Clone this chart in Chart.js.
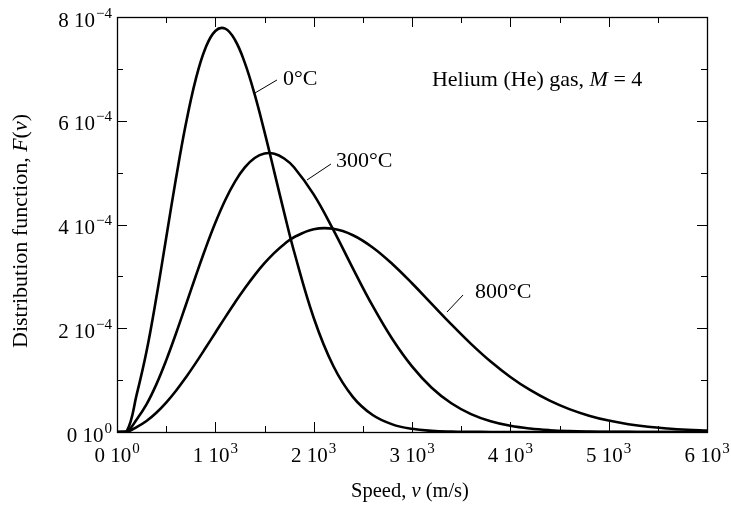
<!DOCTYPE html>
<html>
<head>
<meta charset="utf-8">
<script src="https://cdn.jsdelivr.net/npm/chart.js@4.4.1/dist/chart.umd.min.js"></script>
<style>
  html, body { margin: 0; padding: 0; background: #fff; }
  #wrap { width: 731px; height: 508px; }
</style>
</head>
<body>
<div id="wrap"><canvas id="c" width="731" height="508"></canvas></div>
<script>
// Speed samples (m/s)
const speeds = [0, 100, 200, 300, 400, 500, 600, 700, 800, 900, 1000, 1100, 1200, 1300, 1400, 1500, 1600, 1700, 1800,
  2000, 2200, 2400, 2600, 2800, 3000, 3200, 3400, 3600, 3800, 4000, 4200, 4400, 4600, 4800, 5000,
  5200, 5400, 5600, 5800, 6000];

// Distribution function F(v)
const f0C = [0, 0.019e-4, 0.720e-4, 1.551e-4, 2.592e-4, 3.741e-4, 4.890e-4, 5.936e-4, 6.794e-4, 7.403e-4,
  7.731e-4, 7.775e-4, 7.557e-4, 7.116e-4, 6.507e-4, 5.785e-4, 5.010e-4, 4.229e-4, 3.484e-4,
  2.203e-4, 1.272e-4, 0.673e-4, 0.327e-4, 0.147e-4, 0.061e-4, 0.023e-4, 0.008e-4, 0.003e-4, 0.001e-4,
  0, 0, 0, 0, 0, 0, 0, 0, 0, 0, 0];
const f300C = [0, 0.006e-4, 0.241e-4, 0.532e-4, 0.918e-4, 1.381e-4, 1.899e-4, 2.448e-4, 3.002e-4, 3.538e-4,
  4.033e-4, 4.468e-4, 4.828e-4, 5.102e-4, 5.283e-4, 5.370e-4, 5.365e-4, 5.272e-4, 5.104e-4,
  4.580e-4, 3.896e-4, 3.150e-4, 2.430e-4, 1.792e-4, 1.264e-4, 0.854e-4, 0.554e-4, 0.345e-4, 0.207e-4,
  0.119e-4, 0.066e-4, 0.035e-4, 0.018e-4, 0.009e-4, 0.004e-4, 0.002e-4, 0.001e-4, 0, 0, 0];
const f800C = [0, 0.002e-4, 0.095e-4, 0.211e-4, 0.370e-4, 0.566e-4, 0.795e-4, 1.052e-4, 1.328e-4, 1.618e-4,
  1.914e-4, 2.210e-4, 2.497e-4, 2.771e-4, 3.025e-4, 3.254e-4, 3.454e-4, 3.621e-4, 3.754e-4,
  3.908e-4, 3.917e-4, 3.793e-4, 3.558e-4, 3.239e-4, 2.867e-4, 2.470e-4, 2.075e-4, 1.699e-4, 1.358e-4,
  1.061e-4, 0.810e-4, 0.604e-4, 0.441e-4, 0.315e-4, 0.220e-4, 0.151e-4, 0.101e-4, 0.067e-4, 0.043e-4,
  0.027e-4];

const seriesNames = ['0°C', '300°C', '800°C'];

// Tick values and labels
const xTickValues = [0, 1000, 2000, 3000, 4000, 5000, 6000];
const xMinorTicks = [500, 1500, 2500, 3500, 4500, 5500];
const xTickMantissa = ['0', '1', '2', '3', '4', '5', '6'];
const xTickExponent = ['0', '3', '3', '3', '3', '3', '3'];
const yTickValues = [0, 2e-4, 4e-4, 6e-4, 8e-4];
const yMinorTicks = [1e-4, 3e-4, 5e-4, 7e-4];
const yTickMantissa = ['0', '2', '4', '6', '8'];
const yTickExponent = ['0', '\u22124', '\u22124', '\u22124', '\u22124'];

// Curve labels: [leader start speed, F], [leader end speed, F], [text speed, F baseline]
const curveLabelAnchors = [
  [[1403, 6.535e-4], [1627, 6.786e-4], [1688, 6.69e-4]],
  [[1932, 4.858e-4], [2176, 5.166e-4], [2227, 5.108e-4]],
  [[3356, 2.313e-4], [3519, 2.641e-4], [3641, 2.583e-4]]
];
const gasLabelAnchor = [3203, 6.67e-4];

const FONT = '"Liberation Serif", "Times New Roman", serif';

function toPoints(arr) { return speeds.map((s, i) => ({ x: s, y: arr[i] })); }

function drawSup(ctx, main, sup, x, y, align) {
  ctx.font = '21px ' + FONT;
  const wm = ctx.measureText(main).width;
  ctx.font = '15px ' + FONT;
  const ws = ctx.measureText(sup).width;
  const total = wm + ws + 1;
  let sx = x;
  if (align === 'center') sx = x - total / 2;
  else if (align === 'right') sx = x - total;
  ctx.textAlign = 'left';
  ctx.textBaseline = 'alphabetic';
  ctx.font = '21px ' + FONT;
  ctx.fillText(main, sx, y);
  ctx.font = '15px ' + FONT;
  ctx.fillText(sup, sx + wm + 1, y - 9);
}

function drawParts(ctx, parts, x, y, align, size) {
  // parts: [text, italic]
  let total = 0;
  const widths = parts.map(p => {
    ctx.font = (p[1] ? 'italic ' : '') + size + 'px ' + FONT;
    const w = ctx.measureText(p[0]).width;
    total += w;
    return w;
  });
  let sx = x;
  if (align === 'center') sx = x - total / 2;
  ctx.textAlign = 'left';
  ctx.textBaseline = 'alphabetic';
  parts.forEach((p, i) => {
    ctx.font = (p[1] ? 'italic ' : '') + size + 'px ' + FONT;
    ctx.fillText(p[0], sx, y);
    sx += widths[i];
  });
}

const framePlugin = {
  id: 'frame',
  afterDraw(chart) {
    const ctx = chart.ctx;
    const { left, right, top, bottom } = chart.chartArea;
    const xs = chart.scales.x, ys = chart.scales.y;
    ctx.save();
    ctx.strokeStyle = '#000';
    ctx.fillStyle = '#000';
    ctx.lineWidth = 1.3;
    ctx.strokeRect(Math.round(left) + 0.5, Math.round(top) + 0.5, Math.round(right - left), Math.round(bottom - top));
    ctx.lineWidth = 1;
    ctx.beginPath();
    const tick = (px, len, vertical) => {
      const p = Math.round(px) + 0.5;
      if (vertical) {
        ctx.moveTo(p, bottom); ctx.lineTo(p, bottom - len);
        ctx.moveTo(p, top); ctx.lineTo(p, top + len);
      } else {
        ctx.moveTo(left, p); ctx.lineTo(left + len, p);
        ctx.moveTo(right, p); ctx.lineTo(right - len, p);
      }
    };
    xTickValues.forEach(v => tick(xs.getPixelForValue(v), 10, true));
    xMinorTicks.forEach(v => tick(xs.getPixelForValue(v), 6, true));
    yTickValues.forEach(v => tick(ys.getPixelForValue(v), 10, false));
    yMinorTicks.forEach(v => tick(ys.getPixelForValue(v), 6, false));
    ctx.stroke();

    // tick labels
    xTickValues.forEach((v, i) => drawSup(ctx, xTickMantissa[i] + ' 10', xTickExponent[i], xs.getPixelForValue(v), bottom + 30, 'center'));
    yTickValues.forEach((v, i) => drawSup(ctx, yTickMantissa[i] + ' 10', yTickExponent[i], left - 5, ys.getPixelForValue(v) + 9.5, 'right'));

    // axis titles
    drawParts(ctx, [['Speed, ', false], ['v', true], [' (m/s)', false]], 410, 497, 'center', 20.5);
    ctx.save();
    ctx.translate(27, 231);
    ctx.rotate(-Math.PI / 2);
    drawParts(ctx, [['Distribution function, ', false], ['F', true], ['(', false], ['v', true], [')', false]], 0, 0, 'center', 22);
    ctx.restore();

    // curve labels with leader lines
    ctx.lineWidth = 1;
    curveLabelAnchors.forEach((a, i) => {
      ctx.beginPath();
      ctx.moveTo(xs.getPixelForValue(a[0][0]), ys.getPixelForValue(a[0][1]));
      ctx.lineTo(xs.getPixelForValue(a[1][0]), ys.getPixelForValue(a[1][1]));
      ctx.stroke();
      ctx.font = '22px ' + FONT;
      ctx.textAlign = 'left';
      ctx.textBaseline = 'alphabetic';
      ctx.fillText(seriesNames[i], xs.getPixelForValue(a[2][0]), ys.getPixelForValue(a[2][1]));
    });

    drawParts(ctx, [['Helium (He) gas, ', false], ['M', true], [' = 4', false]],
      xs.getPixelForValue(gasLabelAnchor[0]), ys.getPixelForValue(gasLabelAnchor[1]), 'left', 22);
    ctx.restore();
  }
};

const mk = (label, arr) => ({
  label, data: toPoints(arr), borderColor: '#000', borderWidth: 2.6,
  pointRadius: 0, fill: false, tension: 0.4
});

new Chart(document.getElementById('c'), {
  type: 'line',
  data: { datasets: [mk(seriesNames[0], f0C), mk(seriesNames[1], f300C), mk(seriesNames[2], f800C)] },
  options: {
    responsive: false,
    animation: false,
    events: [],
    layout: { padding: { left: 117, top: 17, right: 24, bottom: 76 } },
    plugins: { legend: { display: false }, tooltip: { enabled: false } },
    scales: {
      x: { type: 'linear', min: 0, max: 6000, display: false },
      y: { type: 'linear', min: 0, max: 8e-4, display: false }
    }
  },
  plugins: [framePlugin]
});
</script>
</body>
</html>
